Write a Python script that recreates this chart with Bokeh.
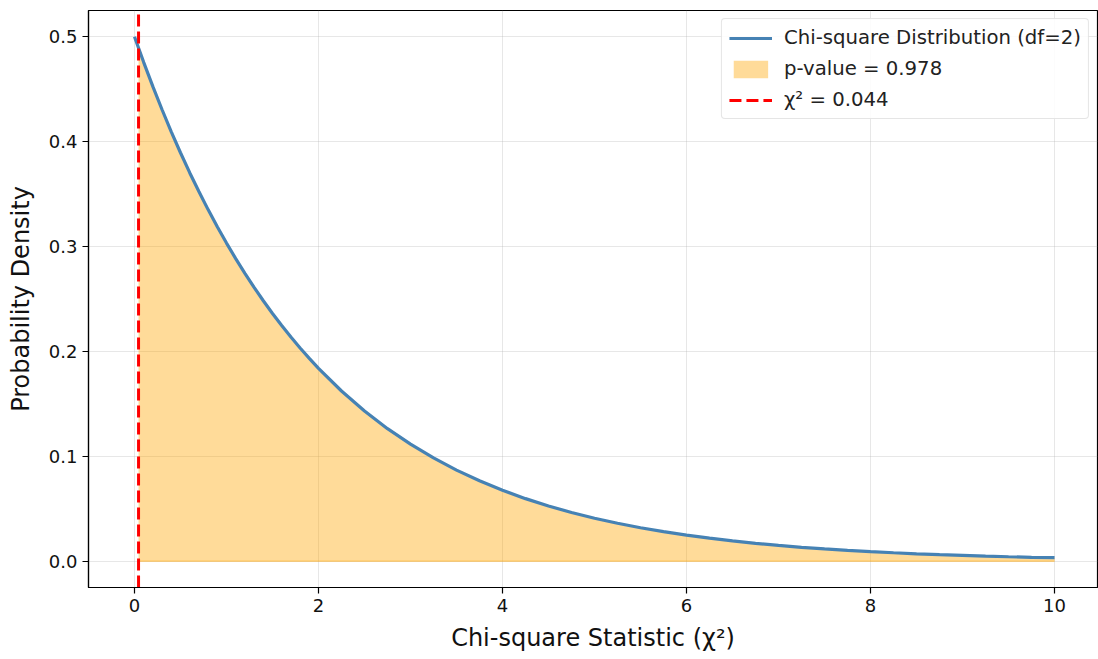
from bokeh.plotting import figure
from bokeh.models import Range1d, FixedTicker, Legend, LegendItem, CustomJSTickFormatter
from bokeh.embed import file_html
from bokeh.resources import INLINE

# Curve values
x_vals = [0.0, 0.1, 0.2, 0.3, 0.4, 0.5, 0.6, 0.7, 0.8, 0.9, 1.0, 1.1, 1.2, 1.3, 1.4,
          1.5, 1.6, 1.7, 1.8, 1.9, 2.0, 2.25, 2.5, 2.75, 3.0, 3.25, 3.5, 3.75, 4.0,
          4.25, 4.5, 4.75, 5.0, 5.25, 5.5, 5.75, 6.0, 6.25, 6.5, 6.75, 7.0, 7.25, 7.5,
          7.75, 8.0, 8.25, 8.5, 8.75, 9.0, 9.25, 9.5, 9.75, 10.0]
pdf_vals = [0.5000, 0.4756, 0.4524, 0.4304, 0.4094, 0.3894, 0.3704, 0.3524, 0.3352,
            0.3188, 0.3033, 0.2885, 0.2744, 0.2610, 0.2483, 0.2362, 0.2247, 0.2137,
            0.2033, 0.1934, 0.1839, 0.1623, 0.1433, 0.1264, 0.1116, 0.0985, 0.0869,
            0.0767, 0.0677, 0.0597, 0.0527, 0.0465, 0.0410, 0.0362, 0.0320, 0.0282,
            0.0249, 0.0220, 0.0194, 0.0171, 0.0151, 0.0133, 0.0118, 0.0104, 0.0092,
            0.0081, 0.0071, 0.0063, 0.0056, 0.0049, 0.0043, 0.0038, 0.0034]
chi2_stat = 0.044
pdf_at_stat = 0.4891
p_value = 0.978
x_ticks = [0, 2, 4, 6, 8, 10]
y_ticks = [0.0, 0.1, 0.2, 0.3, 0.4, 0.5]

fill_x = [chi2_stat] + [x for x in x_vals if x > chi2_stat]
fill_y = [pdf_at_stat] + [y for x, y in zip(x_vals, pdf_vals) if x > chi2_stat]

FONT = "DejaVu Sans"

p = figure(width=1098, height=659, output_backend="svg", toolbar_location=None,
           x_range=Range1d(-0.5, 10.467), y_range=Range1d(-0.025, 0.525),
           min_border_left=88, min_border_right=1, min_border_top=10, min_border_bottom=72)

fill = p.varea(x=fill_x, y1=0, y2=fill_y, fill_color="#FFA500", fill_alpha=0.4)
p.line(x=fill_x, y=[0] * len(fill_x), line_color="#FFA500", line_alpha=0.4, line_width=1.5)
curve = p.line(x=x_vals, y=pdf_vals, line_color="#4682B4", line_width=3.2)
vline = p.line(x=[chi2_stat, chi2_stat], y=[-0.025, 0.525], line_color="#ff0000",
               line_width=3, line_dash="12 5")

legend = Legend(items=[
    LegendItem(label="Chi-square Distribution (df=2)", renderers=[curve]),
    LegendItem(label="p-value = %.3f" % p_value, renderers=[fill]),
    LegendItem(label="χ² = %.3f" % chi2_stat, renderers=[vline]),
], location="top_right")
legend.label_text_font = FONT
legend.label_text_font_size = "19.7px"
legend.label_text_color = "#222222"
legend.glyph_width = 43
legend.glyph_height = 22
legend.spacing = 8
legend.padding = 7
legend.margin = 8
legend.label_standoff = 12
legend.border_line_color = "#cccccc"
legend.border_line_width = 1.5
legend.border_radius = 4
legend.background_fill_alpha = 0.85
p.add_layout(legend)

p.xaxis.ticker = FixedTicker(ticks=x_ticks)
p.yaxis.ticker = FixedTicker(ticks=y_ticks)
p.yaxis.formatter = CustomJSTickFormatter(code="return tick.toFixed(1);")
p.xaxis.axis_label = "Chi-square Statistic (χ²)"
p.yaxis.axis_label = "Probability Density"
for ax in (p.xaxis, p.yaxis):
    ax.axis_label_text_font = FONT
    ax.axis_label_text_font_style = "normal"
    ax.axis_label_text_font_size = "24px"
    ax.axis_label_text_color = "#111111"
    ax.major_label_text_font = FONT
    ax.major_label_text_font_size = "18px"
    ax.major_label_text_color = "#111111"
    ax.axis_line_color = "black"
    ax.axis_line_width = 1.2
    ax.major_tick_line_color = "black"
    ax.major_tick_line_width = 1.2
    ax.major_tick_in = 0
    ax.major_tick_out = 6
    ax.minor_tick_line_color = None
p.xaxis.axis_label_standoff = 9
p.yaxis.axis_label_standoff = 11

p.grid.grid_line_color = "#b0b0b0"
p.grid.grid_line_alpha = 0.3
p.outline_line_color = "black"
p.outline_line_width = 1.2
p.outline_line_alpha = 1

open("out.html", "w").write(file_html(p, INLINE))
